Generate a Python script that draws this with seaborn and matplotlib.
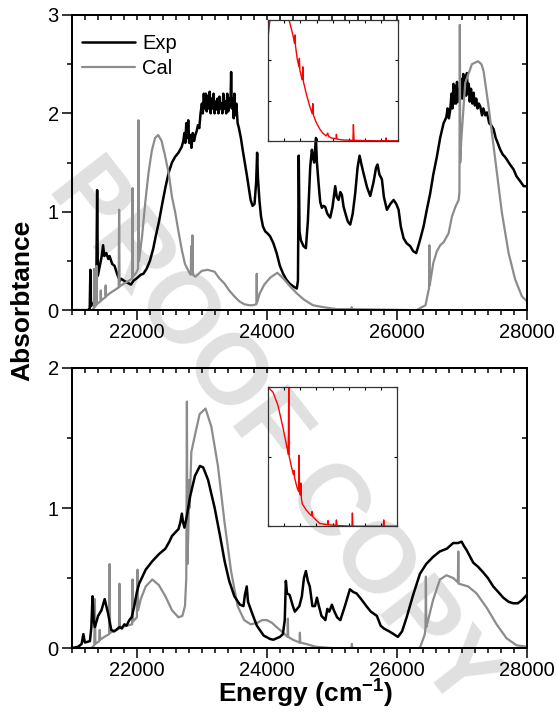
import matplotlib
matplotlib.use('Agg')
import matplotlib.pyplot as plt
from matplotlib.ticker import MultipleLocator
import seaborn as sns

# ---- data (x = energy in cm-1, y = absorbtance) ----
top_exp = [
    (21000, 0.0), (21250, 0.0), (21275, 0.02), (21285, 0.41), (21293, 0.04), (21340, 0.08), (21375, 0.2), (21389, 1.22),
    (21400, 0.35), (21430, 0.45), (21460, 0.55), (21480, 0.66), (21500, 0.55), (21530, 0.58), (21560, 0.52), (21580, 0.55),
    (21620, 0.47), (21657, 0.45), (21700, 0.36), (21740, 0.3), (21758, 0.32), (21800, 0.3), (21850, 0.28), (21909, 0.26),
    (21950, 0.3), (22010, 0.33), (22060, 0.36), (22100, 0.37), (22150, 0.42), (22200, 0.5), (22250, 0.62), (22290, 0.75),
    (22340, 0.9), (22390, 1.08), (22440, 1.25), (22490, 1.4), (22540, 1.5), (22590, 1.56), (22640, 1.6), (22690, 1.66),
    (22715, 1.72), (22730, 1.8), (22745, 1.7), (22760, 1.9), (22775, 1.75), (22790, 1.93), (22805, 1.7), (22820, 1.78),
    (22840, 1.65), (22860, 1.8), (22880, 1.72), (22900, 1.78), (22920, 1.82), (22940, 1.88), (22960, 1.85), (22980, 2.0),
    (23000, 2.1), (23015, 2.0), (23030, 2.2), (23045, 2.05), (23060, 2.2), (23075, 2.02), (23090, 2.18), (23105, 2.05),
    (23120, 2.22), (23135, 2.0), (23150, 2.15), (23165, 2.05), (23180, 2.2), (23195, 2.0), (23210, 2.12), (23225, 2.04),
    (23240, 2.15), (23255, 2.0), (23270, 2.17), (23285, 2.05), (23300, 2.1), (23315, 2.0), (23330, 2.2), (23345, 2.05),
    (23360, 2.12), (23375, 2.0), (23390, 2.2), (23405, 2.02), (23420, 2.15), (23440, 2.08), (23450, 2.42), (23460, 2.05),
    (23475, 2.15), (23490, 1.95), (23500, 2.2), (23510, 1.98), (23530, 2.1), (23550, 1.9), (23570, 1.85), (23600, 1.75),
    (23630, 1.62), (23660, 1.5), (23690, 1.38), (23720, 1.25), (23750, 1.12), (23780, 1.06), (23810, 1.08), (23835, 1.3),
    (23850, 1.6), (23862, 1.35), (23885, 1.12), (23910, 0.95), (23940, 0.85), (23975, 0.8), (24010, 0.78), (24050, 0.75),
    (24100, 0.68), (24150, 0.58), (24200, 0.45), (24250, 0.37), (24300, 0.31), (24350, 0.27), (24410, 0.24), (24460, 0.22),
    (24478, 0.3), (24490, 1.57), (24502, 0.8), (24523, 0.71), (24564, 0.65), (24600, 0.63), (24630, 0.9), (24667, 1.46),
    (24692, 1.63), (24710, 1.55), (24728, 1.5), (24754, 1.75), (24770, 1.5), (24795, 1.29), (24820, 1.1), (24846, 1.04),
    (24870, 1.06), (24897, 1.05), (24930, 0.98), (24974, 0.94), (25010, 1.05), (25051, 1.26), (25075, 1.15), (25103, 1.12),
    (25130, 1.2), (25154, 1.17), (25180, 1.05), (25205, 0.99), (25245, 0.9), (25282, 0.87), (25320, 0.98), (25359, 1.19),
    (25395, 1.45), (25426, 1.57), (25455, 1.48), (25487, 1.39), (25540, 1.25), (25590, 1.16), (25640, 1.3), (25680, 1.45),
    (25703, 1.48), (25730, 1.38), (25769, 1.33), (25800, 1.15), (25846, 1.02), (25900, 1.08), (25949, 1.12), (25990, 1.08),
    (26026, 1.02), (26060, 0.85), (26103, 0.73), (26150, 0.68), (26205, 0.65), (26250, 0.6), (26297, 0.58), (26350, 0.7),
    (26410, 0.85), (26460, 1.02), (26513, 1.19), (26560, 1.38), (26615, 1.56), (26665, 1.75), (26718, 1.9), (26760, 1.96),
    (26780, 2.05), (26800, 1.95), (26821, 2.04), (26840, 2.2), (26855, 2.05), (26870, 2.3), (26885, 2.1), (26897, 2.28),
    (26910, 2.1), (26925, 2.32), (26940, 2.12), (26955, 2.25), (26974, 2.18), (26990, 2.35), (27005, 2.15), (27020, 2.4),
    (27035, 2.2), (27050, 2.38), (27065, 2.18), (27077, 2.41), (27090, 2.2), (27105, 2.3), (27120, 2.12), (27140, 2.25),
    (27160, 2.1), (27179, 2.21), (27200, 2.08), (27220, 2.15), (27240, 2.05), (27260, 2.1), (27282, 2.07), (27310, 1.98),
    (27330, 2.05), (27360, 1.98), (27385, 2.01), (27420, 1.9), (27450, 1.88), (27487, 1.84), (27520, 1.75), (27550, 1.7),
    (27590, 1.63), (27630, 1.58), (27660, 1.56), (27692, 1.53), (27740, 1.48), (27795, 1.43), (27840, 1.36), (27897, 1.31),
    (27950, 1.26), (28000, 1.26),
]

top_cal = [
    (21000, 0.0), (21320, 0.0), (21338, 0.02), (21343, 0.42), (21348, 0.03), (21374, 0.05), (21379, 0.45), (21384, 0.06),
    (21440, 0.09), (21445, 0.2), (21450, 0.1), (21515, 0.13), (21520, 0.25), (21525, 0.14), (21580, 0.17), (21650, 0.2),
    (21720, 0.23), (21727, 1.02), (21734, 0.24), (21800, 0.27), (21880, 0.3), (21928, 0.32), (21934, 1.24), (21940, 0.34),
    (21990, 0.38), (22018, 0.42), (22025, 1.93), (22032, 0.5), (22080, 0.75), (22130, 1.1), (22180, 1.4), (22230, 1.62),
    (22280, 1.75), (22328, 1.78), (22380, 1.72), (22430, 1.58), (22490, 1.39), (22540, 1.15), (22591, 0.99), (22640, 0.8),
    (22692, 0.61), (22740, 0.47), (22800, 0.39), (22830, 0.36), (22835, 0.65), (22840, 0.38), (22850, 0.4), (22855, 0.76),
    (22862, 0.36), (22900, 0.34), (22950, 0.37), (23000, 0.4), (23092, 0.41), (23197, 0.39), (23260, 0.33), (23348, 0.27),
    (23420, 0.2), (23500, 0.14), (23576, 0.09), (23652, 0.06), (23727, 0.05), (23785, 0.05), (23838, 0.06), (23844, 0.37),
    (23850, 0.08), (23890, 0.17), (23960, 0.26), (24051, 0.33), (24160, 0.38), (24256, 0.32), (24359, 0.24), (24462, 0.17),
    (24564, 0.11), (24708, 0.05), (24872, 0.03), (25077, 0.01), (25300, 0.01), (25305, 0.03), (25310, 0.01), (26300, 0.0),
    (26440, 0.05), (26480, 0.18), (26494, 0.22), (26499, 0.66), (26504, 0.25), (26560, 0.48), (26615, 0.6), (26667, 0.66),
    (26718, 0.69), (26795, 0.78), (26846, 0.95), (26900, 1.05), (26950, 1.12), (26962, 1.2), (26968, 2.9), (26974, 1.5),
    (26990, 1.73), (27051, 2.31), (27154, 2.5), (27246, 2.53), (27300, 2.5), (27333, 2.43), (27410, 2.07), (27513, 1.53),
    (27615, 0.99), (27718, 0.58), (27820, 0.31), (27923, 0.14), (28000, 0.09),
]

bot_exp = [
    (21000, 0.0), (21100, 0.01), (21150, 0.03), (21177, 0.1), (21200, 0.04), (21278, 0.05), (21300, 0.15), (21318, 0.37),
    (21335, 0.2), (21354, 0.15), (21404, 0.23), (21455, 0.27), (21505, 0.35), (21530, 0.3), (21556, 0.25), (21606, 0.13),
    (21650, 0.12), (21682, 0.13), (21732, 0.15), (21770, 0.14), (21808, 0.17), (21840, 0.16), (21884, 0.2), (21920, 0.22),
    (21960, 0.3), (22000, 0.4), (22035, 0.46), (22136, 0.56), (22237, 0.62), (22338, 0.67), (22439, 0.71), (22500, 0.76),
    (22540, 0.8), (22600, 0.83), (22641, 0.85), (22670, 0.9), (22692, 0.96), (22710, 0.9), (22732, 0.86), (22768, 0.94),
    (22818, 1.08), (22894, 1.23), (22970, 1.3), (23020, 1.29), (23096, 1.2), (23197, 1.0), (23280, 0.8), (23350, 0.62),
    (23420, 0.48), (23500, 0.37), (23585, 0.31), (23640, 0.3), (23662, 0.38), (23690, 0.44), (23710, 0.33), (23780, 0.24),
    (23846, 0.16), (23950, 0.09), (24050, 0.065), (24100, 0.06), (24200, 0.08), (24246, 0.1), (24275, 0.2), (24292, 0.48),
    (24310, 0.39), (24350, 0.38), (24400, 0.3), (24430, 0.26), (24500, 0.3), (24538, 0.37), (24570, 0.5), (24600, 0.55),
    (24630, 0.48), (24660, 0.44), (24700, 0.3), (24740, 0.3), (24770, 0.36), (24800, 0.3), (24840, 0.23), (24900, 0.2),
    (24930, 0.28), (24960, 0.26), (25000, 0.31), (25030, 0.27), (25080, 0.22), (25130, 0.2), (25200, 0.3), (25277, 0.42),
    (25330, 0.4), (25380, 0.39), (25450, 0.35), (25530, 0.3), (25600, 0.26), (25692, 0.23), (25750, 0.16), (25800, 0.14),
    (25880, 0.12), (25950, 0.1), (26015, 0.08), (26080, 0.12), (26150, 0.22), (26250, 0.38), (26354, 0.53), (26450, 0.6),
    (26554, 0.65), (26660, 0.69), (26769, 0.71), (26866, 0.75), (26940, 0.75), (26995, 0.76), (27030, 0.73), (27072, 0.7),
    (27174, 0.61), (27250, 0.58), (27328, 0.54), (27400, 0.5), (27482, 0.44), (27560, 0.4), (27636, 0.36), (27720, 0.33),
    (27790, 0.32), (27860, 0.32), (27918, 0.34), (28000, 0.38),
]

bot_cal = [
    (21000, 0.0), (21300, 0.0), (21345, 0.02), (21354, 0.35), (21362, 0.03), (21420, 0.05), (21429, 0.13), (21436, 0.06),
    (21500, 0.08), (21574, 0.1), (21581, 0.6), (21588, 0.11), (21650, 0.12), (21725, 0.14), (21732, 0.46), (21739, 0.15),
    (21850, 0.16), (21927, 0.17), (21934, 0.49), (21941, 0.19), (22000, 0.22), (22010, 0.56), (22020, 0.27), (22060, 0.35),
    (22136, 0.44), (22237, 0.49), (22338, 0.45), (22439, 0.37), (22540, 0.27), (22640, 0.22), (22700, 0.23), (22740, 0.3),
    (22760, 0.5), (22770, 1.76), (22778, 0.6), (22795, 0.9), (22803, 1.2), (22812, 1.0), (22838, 1.4), (22889, 1.51),
    (22965, 1.67), (23056, 1.71), (23146, 1.58), (23247, 1.3), (23348, 0.9), (23449, 0.55), (23550, 0.3), (23650, 0.2),
    (23750, 0.17), (23850, 0.18), (23930, 0.2), (24000, 0.2), (24080, 0.18), (24150, 0.15), (24250, 0.11), (24318, 0.08),
    (24323, 0.21), (24328, 0.08), (24400, 0.06), (24503, 0.04), (24508, 0.11), (24513, 0.04), (24600, 0.03), (24750, 0.01),
    (25000, 0.0), (25305, 0.0), (25308, 0.03), (25311, 0.0), (26350, 0.0), (26400, 0.06), (26430, 0.1), (26440, 0.15),
    (26446, 0.51), (26452, 0.15), (26480, 0.2), (26554, 0.34), (26662, 0.49), (26764, 0.52), (26866, 0.5), (26938, 0.47),
    (26944, 0.69), (26950, 0.46), (27097, 0.44), (27226, 0.39), (27379, 0.29), (27533, 0.17), (27687, 0.07), (27841, 0.02),
    (28000, 0.01),
]

# insets (unlabelled axes, arbitrary units)
top_inset = [
    (0.0, 2.54), (0.15, 3.1), (1.25, 3.1), (1.33, 2.96), (1.54, 2.63), (1.64, 2.42), (1.67, 2.63), (1.70, 2.36),
    (1.80, 2.05), (1.91, 1.84), (1.94, 2.05), (1.97, 1.76), (2.05, 1.62), (2.12, 1.52), (2.15, 1.84), (2.19, 1.47),
    (2.36, 1.18), (2.56, 0.89), (2.73, 0.68), (2.77, 0.93), (2.81, 0.64), (2.97, 0.47), (3.18, 0.31), (3.38, 0.2),
    (3.59, 0.13), (3.69, 0.2), (3.74, 0.12), (3.9, 0.08), (4.2, 0.06), (4.22, 0.17), (4.26, 0.05), (4.62, 0.03),
    (5.24, 0.02), (5.27, 0.41), (5.31, 0.02), (6.67, 0.01), (7.25, 0.01), (7.28, 0.08), (7.31, 0.01), (8.0, 0.01),
]

bot_inset = [
    (0.0, 2.0), (0.31, 1.93), (0.62, 1.74), (0.93, 1.42), (1.14, 1.18), (1.26, 1.03), (1.29, 2.1), (1.32, 1.0),
    (1.45, 0.86), (1.58, 0.74), (1.62, 0.8), (1.65, 0.7), (1.8, 0.56), (1.9, 0.5), (1.93, 1.02), (1.96, 0.48),
    (2.01, 0.45), (2.04, 0.62), (2.07, 0.4), (2.13, 0.32), (2.38, 0.23), (2.69, 0.15), (2.73, 0.21), (2.77, 0.14),
    (2.89, 0.11), (3.2, 0.04), (3.69, 0.02), (3.72, 0.08), (3.75, 0.02), (4.21, 0.01), (4.24, 0.09), (4.27, 0.01),
    (5.2, 0.0), (5.23, 0.19), (5.26, 0.0), (7.14, 0.0), (7.17, 0.09), (7.2, 0.0), (8.0, 0.0),
]

EXP_COLOR = 'black'
CAL_COLOR = '#8c8c8c'

sns.set_style('ticks')
plt.rcParams['font.family'] = ['Liberation Sans', 'DejaVu Sans']
plt.rcParams['mathtext.fontset'] = 'custom'
plt.rcParams['mathtext.rm'] = 'Liberation Sans:bold'
plt.rcParams['mathtext.bf'] = 'Liberation Sans:bold'
plt.rcParams['mathtext.it'] = 'Liberation Sans:bold'
plt.rcParams['text.color'] = 'black'
plt.rcParams['xtick.color'] = 'black'
plt.rcParams['ytick.color'] = 'black'


def xy(pairs):
    xs, ys = zip(*pairs)
    return list(xs), list(ys)


def style_main(ax, ymax):
    ax.set_xlim(21000, 28000)
    ax.set_ylim(0, ymax)
    ax.set_facecolor('none')
    ax.set_xlabel('')
    ax.set_ylabel('')
    ax.xaxis.set_major_locator(MultipleLocator(2000))
    ax.xaxis.set_minor_locator(MultipleLocator(200))
    ax.yaxis.set_major_locator(MultipleLocator(1))
    ax.yaxis.set_minor_locator(MultipleLocator(0.5))
    ax.tick_params(which='major', direction='out', length=7, width=1.1, labelsize=14.5, pad=2.5)
    ax.tick_params(which='minor', direction='out', length=3.5, width=1.1)
    for s in ax.spines.values():
        s.set_visible(True)
        s.set_linewidth(1.2)
        s.set_color('black')
    # inward ticks on the top frame
    axt = ax.twiny()
    axt.set_xlim(21000, 28000)
    axt.xaxis.set_major_locator(MultipleLocator(200))
    axt.tick_params(axis='x', direction='in', length=3.5, width=1.1, top=True, bottom=False,
                    labeltop=False, labelbottom=False)
    # inward ticks on the right frame
    axr = ax.twinx()
    axr.set_ylim(0, ymax)
    axr.yaxis.set_major_locator(MultipleLocator(0.5))
    axr.tick_params(axis='y', direction='in', length=3.5, width=1.1, right=True, left=False,
                    labelright=False, labelleft=False)
    for tw in (axt, axr):
        for s in tw.spines.values():
            s.set_linewidth(1.2)
            s.set_color('black')


def draw_inset(ax, pairs, ymax):
    x, y = xy(pairs)
    sns.lineplot(x=x, y=y, ax=ax, color='red', linewidth=1.0, estimator=None, sort=False, legend=False)
    ax.set_facecolor('none')
    ax.set_xlim(0, 8)
    ax.set_ylim(0, ymax)
    ax.set_xticks(range(9))
    ax.set_yticks(range(ymax + 1))
    ax.set_xlabel('')
    ax.set_ylabel('')
    ax.tick_params(direction='in', length=2.5, width=0.8, top=True, right=True,
                   labelbottom=False, labelleft=False)
    for s in ax.spines.values():
        s.set_visible(True)
        s.set_linewidth(0.9)
        s.set_color('#333333')


fig = plt.figure(figsize=(5.57, 7.13), dpi=100, facecolor='white')

# watermark behind everything
fig.text(0.49, 0.39, 'PROOF COPY', fontsize=72, fontweight='bold', color='#e0e0e0',
         rotation=-52, rotation_mode='anchor', ha='center', va='center', zorder=-5)

ax1 = fig.add_axes([0.129, 0.565, 0.817, 0.414])
ax2 = fig.add_axes([0.129, 0.091, 0.817, 0.393])

x, y = xy(top_exp)
sns.lineplot(x=x, y=y, ax=ax1, color=EXP_COLOR, linewidth=1.8, estimator=None, sort=False, label='Exp')
x, y = xy(top_cal)
sns.lineplot(x=x, y=y, ax=ax1, color=CAL_COLOR, linewidth=1.6, estimator=None, sort=False, label='Cal')
ax1.legend(loc='upper left', bbox_to_anchor=(0.022, 0.936), frameon=False, borderpad=0,
           borderaxespad=0, handlelength=2.65, handletextpad=0.35, labelspacing=0.3, fontsize=14.5)
style_main(ax1, 3)

x, y = xy(bot_cal)
sns.lineplot(x=x, y=y, ax=ax2, color=CAL_COLOR, linewidth=1.6, estimator=None, sort=False, legend=False)
x, y = xy(bot_exp)
sns.lineplot(x=x, y=y, ax=ax2, color=EXP_COLOR, linewidth=1.8, estimator=None, sort=False, legend=False)
style_main(ax2, 2)

ins1 = fig.add_axes([0.481, 0.802, 0.233, 0.170])
draw_inset(ins1, top_inset, 3)
ins2 = fig.add_axes([0.481, 0.262, 0.232, 0.195])
draw_inset(ins2, bot_inset, 2)

fig.text(0.041, 0.579, 'Absorbtance', rotation=90, fontsize=19, fontweight='bold',
         ha='center', va='center')
fig.text(0.549, 0.014, 'Energy (cm$^{-1}$)', fontsize=19, fontweight='bold',
         ha='center', va='baseline')

fig.savefig('out.png', dpi=100)
